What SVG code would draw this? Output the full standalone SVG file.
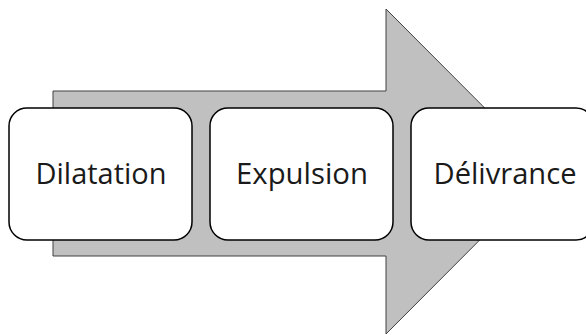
<svg xmlns="http://www.w3.org/2000/svg" width="586" height="335" viewBox="0 0 586 335">
<style>
.box{fill:#fff;stroke:#000;stroke-width:1.5}
.lbl{font-family:"Open Sans",Lato,sans-serif;font-size:29px;fill:#1a1a1a;text-anchor:middle;font-variant-ligatures:none}
</style>
<rect width="586" height="335" fill="#fff"/>
<g id="connectors">
<polygon id="arrow" points="53,91 386,91 386,9 548,171.5 386,334 386,256 53,256" fill="#c0c0c0" stroke="#404040" stroke-width="1"/>
</g>
<g id="dilatation">
<rect class="box" x="9" y="108" width="183" height="132" rx="18"/>
<text class="lbl" x="101" y="183.5" textLength="131" lengthAdjust="spacingAndGlyphs">Dilatation</text>
</g>
<g id="expulsion">
<rect class="box" x="210" y="108" width="183" height="132" rx="18"/>
<text class="lbl" x="302" y="183.5" textLength="132" lengthAdjust="spacingAndGlyphs">Expulsion</text>
</g>
<g id="delivrance">
<rect class="box" x="411" y="108" width="183" height="132" rx="18"/>
<text class="lbl" x="505" y="183.5" textLength="143" lengthAdjust="spacingAndGlyphs">Délivrance</text>
</g>
</svg>
